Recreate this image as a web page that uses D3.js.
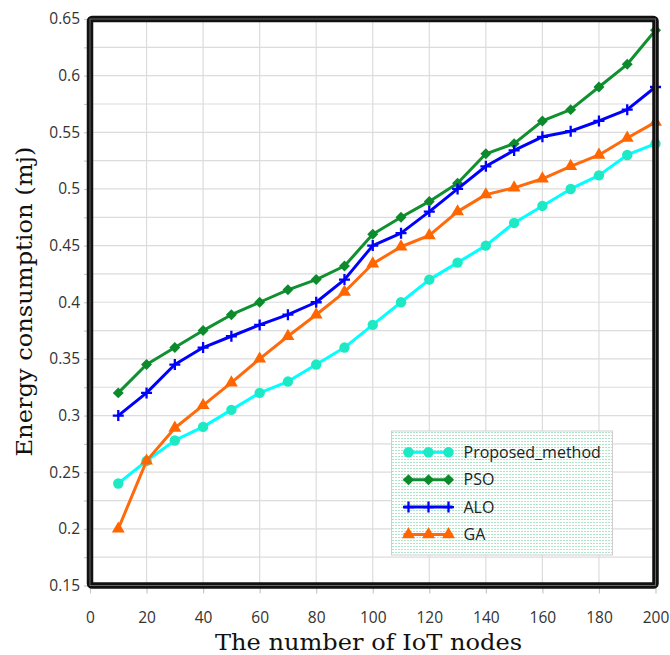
<!DOCTYPE html>
<html>
<head>
<meta charset="utf-8">
<script src="https://cdn.jsdelivr.net/npm/d3@7"></script>
<style>
  body { margin: 0; background: #fff; }
  svg { display: block; }
</style>
</head>
<body>
<div id="chart"></div>
<script>
const nodes = [10, 20, 30, 40, 50, 60, 70, 80, 90, 100, 110, 120, 130, 140, 150, 160, 170, 180, 190, 200];

const proposed = [0.24, 0.26, 0.278, 0.29, 0.305, 0.32, 0.33, 0.345, 0.36, 0.38, 0.40, 0.42, 0.435, 0.45, 0.47, 0.485, 0.50, 0.512, 0.53, 0.54];
const pso      = [0.32, 0.345, 0.36, 0.375, 0.389, 0.40, 0.411, 0.42, 0.432, 0.46, 0.475, 0.489, 0.505, 0.531, 0.54, 0.56, 0.57, 0.59, 0.61, 0.64];
const alo      = [0.30, 0.32, 0.345, 0.36, 0.37, 0.38, 0.389, 0.40, 0.42, 0.45, 0.461, 0.48, 0.50, 0.52, 0.534, 0.546, 0.551, 0.56, 0.57, 0.59];
const ga       = [0.20, 0.26, 0.289, 0.309, 0.329, 0.35, 0.37, 0.389, 0.409, 0.434, 0.449, 0.459, 0.48, 0.495, 0.501, 0.509, 0.52, 0.53, 0.545, 0.559];

const seriesNames = ["Proposed_method", "PSO", "ALO", "GA"];
const xTicks = [0, 20, 40, 60, 80, 100, 120, 140, 160, 180, 200];
const yTicks = [0.15, 0.2, 0.25, 0.3, 0.35, 0.4, 0.45, 0.5, 0.55, 0.6, 0.65];

const width = 670, height = 655;
const plot = {left: 90, right: 655.5, top: 19, bottom: 585.5};

const series = [
  {name: seriesNames[0], values: proposed, line: "#00ffff", fill: "#1de9c4", shape: "circle"},
  {name: seriesNames[1], values: pso,      line: "#109030", fill: "#0c8a2c", shape: "diamond"},
  {name: seriesNames[2], values: alo,      line: "#0000ff", fill: "#0000ff", shape: "plus"},
  {name: seriesNames[3], values: ga,       line: "#ff6a0d", fill: "#ff6600", shape: "triangle"}
];

const svg = d3.select("#chart").append("svg")
  .attr("width", width).attr("height", height);

// dotted fill for the legend box
const defs = svg.append("defs");
const pat = defs.append("pattern")
  .attr("id", "dots").attr("patternUnits", "userSpaceOnUse")
  .attr("width", 3).attr("height", 3);
pat.append("rect").attr("width", 3).attr("height", 3).attr("fill", "#fff");
pat.append("rect").attr("x", 1).attr("y", 1).attr("width", 1).attr("height", 1).attr("fill", "#5cc890");

/*-----Scales-----*/
const x = d3.scaleLinear().domain([0, 200]).range([plot.left, plot.right]);
const y = d3.scaleLinear().domain([0.15, 0.65]).range([plot.bottom, plot.top]);

/*-----Grid-----*/
const grid_g = svg.append("g");
grid_g.selectAll("line.h")
  .data(d3.range(0.175, 0.65, 0.025))
  .enter().append("line")
  .attr("x1", plot.left).attr("x2", plot.right)
  .attr("y1", d => y(d)).attr("y2", d => y(d))
  .attr("stroke", "#dcdcdc").attr("stroke-width", 1.2);
grid_g.selectAll("line.v")
  .data(xTicks.slice(1, -1))
  .enter().append("line")
  .attr("y1", plot.top).attr("y2", plot.bottom)
  .attr("x1", d => x(d)).attr("x2", d => x(d))
  .attr("stroke", "#dcdcdc").attr("stroke-width", 1.2);

/*-----Axes-----*/
const xAxis = svg.append("g")
  .attr("transform", "translate(0," + plot.bottom + ")")
  .call(d3.axisBottom(x).tickValues(xTicks).tickSize(8).tickPadding(18).tickFormat(d3.format("d")));
const yAxis = svg.append("g")
  .attr("transform", "translate(" + plot.left + ",0)")
  .call(d3.axisLeft(y).tickValues(d3.range(0.15, 0.651, 0.025)).tickSize(6).tickPadding(4)
        .tickFormat((d, i) => i % 2 === 0 ? String(+d.toFixed(2)) : ""));
[xAxis, yAxis].forEach(a => {
  a.select(".domain").remove();
  a.selectAll(".tick line").attr("stroke", "#c8c8c8").attr("stroke-width", 1.2);
  a.selectAll(".tick text")
    .attr("fill", "#333").style("font-family", "'Open Sans', sans-serif").style("font-size", "15.5px");
});

/*-----Lines and markers-----*/
const lineGen = d3.line().x((d, i) => x(nodes[i])).y(d => y(d));
const symbols = {
  circle: d3.symbol().type(d3.symbolCircle).size(85),
  diamond: d3.symbol().type(d3.symbolSquare).size(60),
  triangle: d3.symbol().type(d3.symbolTriangle).size(72)
};

function drawMarker(g, s, cx, cy) {
  if (s.shape === "plus") {
    g.append("path")
      .attr("d", `M${cx - 5.5},${cy}H${cx + 5.5}M${cx},${cy - 5.5}V${cy + 5.5}`)
      .attr("stroke", s.fill).attr("stroke-width", 2.3).attr("fill", "none");
  } else {
    g.append("path")
      .attr("d", symbols[s.shape]())
      .attr("transform", `translate(${cx},${cy})` + (s.shape === "diamond" ? " rotate(45)" : ""))
      .attr("fill", s.fill);
  }
}

const lines_g = svg.append("g");
series.forEach(s => {
  const g = lines_g.append("g");
  g.append("path")
    .attr("d", lineGen(s.values))
    .attr("fill", "none").attr("stroke", s.line).attr("stroke-width", 3)
    .attr("stroke-linejoin", "round");
  s.values.forEach((v, i) => drawMarker(g, s, x(nodes[i]), y(v)));
});

/*-----Frame-----*/
svg.append("rect")
  .attr("x", plot.left).attr("y", plot.top)
  .attr("width", plot.right - plot.left).attr("height", plot.bottom - plot.top)
  .attr("fill", "none").attr("stroke", "#111").attr("stroke-width", 6.5).attr("rx", 2);
svg.append("rect")
  .attr("x", plot.left).attr("y", plot.top)
  .attr("width", plot.right - plot.left).attr("height", plot.bottom - plot.top)
  .attr("fill", "none").attr("stroke", "#666").attr("stroke-width", 1);

/*-----Legend-----*/
const legend = svg.append("g").attr("transform", "translate(391.5,431)");
legend.append("rect")
  .attr("width", 221).attr("height", 124)
  .attr("fill", "url(#dots)").attr("stroke", "#cfcfcf").attr("stroke-width", 1);
series.forEach((s, i) => {
  const ly = 21.3 + i * 27.4;
  const row = legend.append("g");
  row.append("line").attr("x1", 12).attr("x2", 61).attr("y1", ly).attr("y2", ly)
    .attr("stroke", s.line).attr("stroke-width", 3);
  [17, 37, 57].forEach(mx => drawMarker(row, s, mx, ly));
  row.append("text").attr("x", 72).attr("y", ly).attr("dy", "0.36em")
    .attr("fill", "#222").style("font-family", "'Open Sans', sans-serif").style("font-size", "16px")
    .text(s.name);
});

/*-----Axis titles-----*/
svg.append("text")
  .attr("x", 368.5).attr("y", 650)
  .attr("text-anchor", "middle")
  .attr("textLength", 307).attr("lengthAdjust", "spacingAndGlyphs")
  .style("font-family", "'DejaVu Serif', serif").style("font-size", "23px").attr("fill", "#111")
  .text("The number of IoT nodes");
svg.append("text")
  .attr("transform", "translate(32,301.5) rotate(-90)")
  .attr("text-anchor", "middle")
  .attr("textLength", 310).attr("lengthAdjust", "spacingAndGlyphs")
  .style("font-family", "'DejaVu Serif', serif").style("font-size", "21.5px").attr("fill", "#111")
  .text("Energy consumption (mj)");
</script>
</body>
</html>
